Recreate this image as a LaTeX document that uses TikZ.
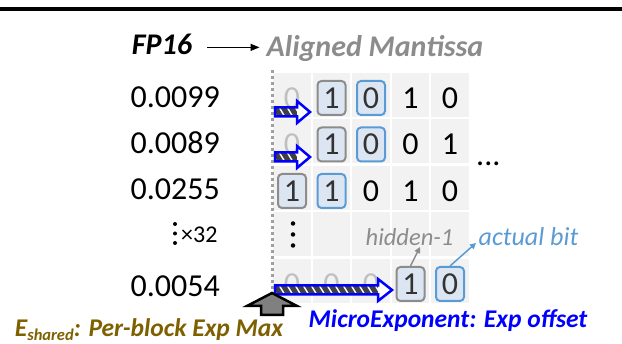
\documentclass[tikz,border=0pt]{standalone}
\usepackage{fontspec}
\setmainfont{Carlito}
\usetikzlibrary{arrows.meta}
\definecolor{cellbg}{HTML}{F2F2F2}
\definecolor{boxfill}{HTML}{DCE6F2}
\definecolor{boxgray}{HTML}{8C8C8C}
\definecolor{boxblue}{HTML}{5B9BD5}
\definecolor{boxtext}{HTML}{333333}
\definecolor{ghostgray}{HTML}{BFBFBF}
\definecolor{stripegray}{HTML}{404040}
\definecolor{olive}{HTML}{7F6000}
\definecolor{labgray}{HTML}{8C8C8C}
\definecolor{dotgray}{HTML}{A0A0A0}
\definecolor{upgray}{HTML}{808080}
\newcommand{\mxarrow}[4]{%
  \fill[white] (#1,#4-4.5) -- (#2,#4-4.5) -- (#2,#4-11) -- (#3,#4) -- (#2,#4+11) -- (#2,#4+4.5) -- (#1,#4+4.5) -- cycle;
  \begin{scope}
    \clip (#1,#4-4.5) rectangle (#2,#4+4.5);
    \fill[stripegray] (#1,#4-4.5) rectangle (#2,#4+4.5);
    \foreach \s in {0,8,...,128} \draw[white,line width=1.4pt] (#1+\s-4,#4-5) -- ++(6,10);
  \end{scope}
  \draw[blue,line width=2.5pt,line join=miter] (#1,#4-4.5) -- (#2,#4-4.5) -- (#2,#4-11) -- (#3,#4) -- (#2,#4+11) -- (#2,#4+4.5) -- (#1,#4+4.5) -- cycle;
}
\begin{document}
\begin{tikzpicture}[x=1pt,y=-1pt,
  bit/.style={font=\fontsize{32}{32}\selectfont, inner sep=0pt},
  ghost/.style={bit, text=ghostgray},
  gbox/.style={bit, text=boxtext, fill=boxfill, draw=boxgray, line width=2pt, rounded corners=4pt, minimum width=28pt, minimum height=34pt},
  bbox/.style={gbox, draw=boxblue},
  lbl/.style={font=\fontsize{32}{32}\selectfont, inner sep=0pt, anchor=east},
  note/.style={font=\fontsize{24.5}{24.5}\selectfont\itshape, inner sep=0pt, anchor=base},
  title/.style={font=\fontsize{30}{30}\selectfont\bfseries\itshape, inner sep=0pt, anchor=base},
  capt/.style={font=\fontsize{25.5}{25.5}\selectfont\bfseries\itshape, inner sep=0pt, anchor=base},
  vdot/.style={fill=black, circle, inner sep=0pt, minimum size=4.5pt}
]
\useasboundingbox (0,0) rectangle (622,344);
% top rule
\draw[line width=3.2pt] (0,9) -- (622,9);
% header
\node[title] (fp) at (162,55) {FP16};
\node[title, text=labgray] (am) at (375,57) {Aligned Mantissa};
\draw[line width=1.4pt, -{Triangle[length=9pt,width=7pt]}, shorten <=15pt, shorten >=7pt] ([yshift=-2.5pt]fp.east) -- ([yshift=-2.5pt]fp.east -| am.west);
% cells
\foreach \r in {0,...,4}
  \foreach \c in {0,...,4}
    \fill[cellbg] (273+39.5*\c, 73+46.5*\r) rectangle ++(37.5,44);
% dotted line
\draw[dotgray, line width=3pt, dash pattern=on 3pt off 3pt] (272,70) -- (272,292);
% left labels
\node[lbl] (v1) at (220,97) {0.0099};
\node[lbl] (v2) at (220,143) {0.0089};
\node[lbl] (v3) at (220,189) {0.0255};
\node[lbl] (v5) at (220,286) {0.0054};
\node[vdot, minimum size=4pt] (ld1) at (175,224) {};
\node[vdot, minimum size=4pt] (ld2) at (175,233.5) {};
\node[vdot, minimum size=4pt] (ld3) at (175,243) {};
\node[font=\fontsize{24}{24}\selectfont, inner sep=0pt, anchor=base west] (x32) at (181,243) {×32};
% row 1
\node[ghost] (g11) at (292,98) {0};
\node[gbox] (b12) at (331.5,98) {1};
\node[bbox] (b13) at (371,98) {0};
\node[bit] (d14) at (410.5,98) {1};
\node[bit] (d15) at (450,98) {0};
% row 2
\node[ghost] (g21) at (292,144.5) {0};
\node[gbox] (b22) at (331.5,144.5) {1};
\node[bbox] (b23) at (371,144.5) {0};
\node[bit] (d24) at (410.5,144.5) {0};
\node[bit] (d25) at (450,144.5) {1};
\node[bit, anchor=base west] (more) at (476,166) {...};
% row 3
\node[gbox] (b31) at (292,191) {1};
\node[bbox] (b32) at (331.5,191) {1};
\node[bit] (d33) at (371,191) {0};
\node[bit] (d34) at (410.5,191) {1};
\node[bit] (d35) at (450,191) {0};
% row 4
\node[vdot] (cd1) at (293,223.5) {};
\node[vdot] (cd2) at (293,234.5) {};
\node[vdot] (cd3) at (293,245.5) {};
\node[note, text=labgray] (hid) at (409.5,246) {hidden-1};
\node[note, text=boxblue, font=\fontsize{26}{26}\selectfont\itshape] (act) at (528.5,246) {actual bit};
% row 5
\node[ghost] (g51) at (292,284) {0};
\node[ghost] (g52) at (331.5,284) {0};
\node[ghost] (g53) at (371,284) {0};
\node[gbox] (b54) at (410.5,284) {1};
\node[bbox] (b55) at (450,284) {0};
% arrows
\mxarrow{275}{297}{310}{112}
\mxarrow{275}{297}{310}{157}
\mxarrow{275}{378}{392}{290}
% small pointers
\coordinate (hidtip) at (420,247);
\coordinate (acttip) at (476,243);
\draw[labgray, line width=1.5pt, -{Triangle[length=6pt,width=6pt]}] (b54.north) -- (hidtip);
\draw[boxblue, line width=1.5pt, -{Triangle[length=6pt,width=6pt]}] (b55.north) -- (acttip);
% up arrow
\filldraw[fill=upgray, draw=black, line width=2.5pt, line join=miter] (272,293) -- (297,306) -- (283,306) -- (283,315) -- (261,315) -- (261,306) -- (247,306) -- cycle;
% captions
\node[capt, text=olive] (es) at (149,336.5) {E\raisebox{-4.5pt}{\fontsize{16.5}{16.5}\selectfont shared}: Per-block Exp Max};
\node[capt, text=blue] (me) at (448,328) {MicroExponent: Exp offset};
\end{tikzpicture}
\end{document}
